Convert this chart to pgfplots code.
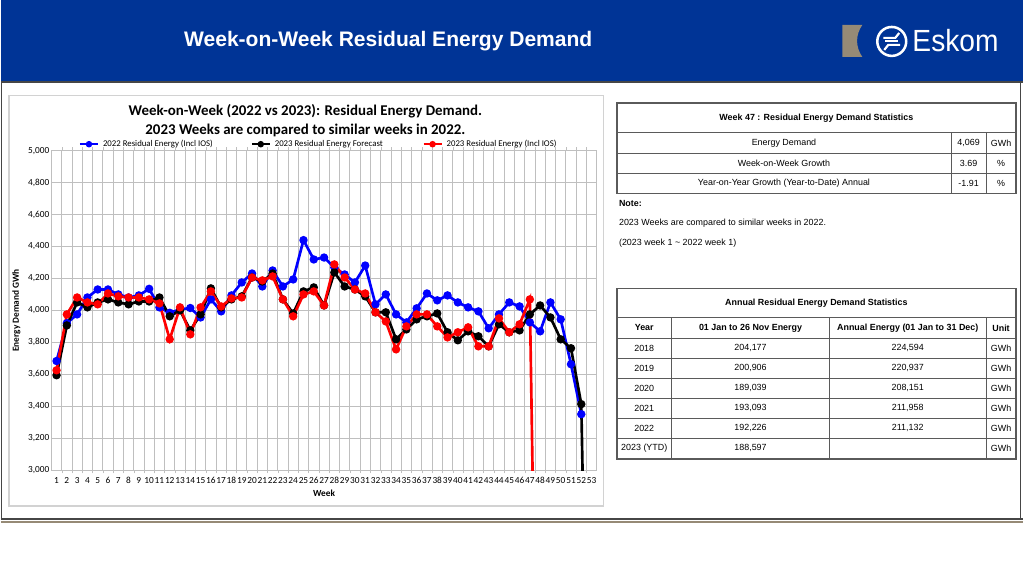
\documentclass[border=0pt]{standalone}
\usepackage{fontspec}
\usepackage{pgfplots}
\pgfplotsset{compat=1.18}
\setmainfont{Liberation Sans}
\newfontfamily\calibri{Carlito}
\definecolor{hdrblue}{RGB}{0,52,150}
\definecolor{frame}{RGB}{70,70,70}
\definecolor{tan}{RGB}{150,138,118}
\definecolor{tline}{RGB}{90,90,90}
\definecolor{gridc}{RGB}{191,191,191}
\newcommand{\tf}{\fontsize{6.7}{7.5}\selectfont}
\begin{document}
\begin{tikzpicture}[x=0.75pt,y=0.75pt]
% page and header
\fill[white] (0,0) rectangle (1024,-576);
\fill[hdrblue] (0,0) rectangle (1024,-82);
\draw[frame, line width=1.5pt] (0,-82.5) -- (1024,-82.5);
\node[white, font=\bfseries\fontsize{15.8}{18}\selectfont] at (388,-41) {Week-on-Week Residual Energy Demand};
% logo
\fill[tan] (843,-25) -- (863,-25) .. controls (856,-35) and (856,-47) .. (863,-57) -- (843,-57) -- cycle;
\draw[white, line width=1.9pt] (892.5,-41.5) circle (14.5);
\draw[white, line width=1.6pt] (884,-38) -- (896,-38) -- (900,-33);
\draw[white, line width=1.6pt] (901,-45) -- (889,-45) -- (885,-50);
\draw[white, line width=1.6pt] (886,-41.5) -- (899,-41.5);
\node[white, anchor=west, inner sep=0pt] at (913,-41) {\scalebox{0.92}[1]{\fontsize{23}{26}\selectfont Eskom}};
% content frame
\draw[frame, line width=1.2pt] (0.5,-83) -- (0.5,-520) (1021.5,-83) -- (1021.5,-520);
\draw[frame, line width=1.5pt] (0,-520) -- (1024,-520);
\draw[tan, line width=1.5pt] (0,-523) -- (1024,-523);
% chart panel
\draw[gridc!70, line width=0.8pt] (8,-96) rectangle (604,-507);
\node[inner sep=0pt, font=\calibri\bfseries\fontsize{11.2}{12}\selectfont] at (305,-111.5) {Week-on-Week (2022 vs 2023): Residual Energy Demand.};
\node[inner sep=0pt, font=\calibri\bfseries\fontsize{11.2}{12}\selectfont] at (305,-130.5) {2023 Weeks are compared to similar weeks in 2022.};
\coordinate (axpos) at (50.5,-471);
\begin{axis}[
  at={(axpos)}, anchor=south west,
  scale only axis, width=409.8pt, height=240pt,
  xmin=0.5, xmax=53.5, ymin=3000, ymax=5000,
  xtick={1,...,53}, minor x tick num=1,
  ytick={3000,3200,...,5000},
  major tick length=0pt, minor tick length=2.5pt, tick align=outside,
  xminorgrids=true, ymajorgrids=true,
  grid style={gridc, line width=0.6pt},
  minor tick style={gridc},
  axis line style={gridc},
  tick label style={font=\calibri\fontsize{7}{8}\selectfont},
  /pgf/number format/assume math mode=true,
  y tick label style={/pgf/number format/1000 sep={,}, xshift=2pt},
  xticklabel style={yshift=-2pt},
  xlabel={Week},
  xlabel style={font=\calibri\bfseries\fontsize{7}{8}\selectfont, yshift=2pt},
  ylabel={Energy Demand GWh},
  ylabel style={font=\calibri\bfseries\fontsize{7}{8}\selectfont, yshift=-1pt},
  every axis plot/.append style={line width=2pt, mark=*, mark size=2.1pt, mark options={solid}},
  legend columns=3,
  legend style={draw=none, fill=none, at={(0.05,0.998)}, anchor=south west,
    font=\calibri\fontsize{6.6}{7}\selectfont, inner sep=0pt,
    /tikz/every odd column/.append style={column sep=1pt}},
  legend image code/.code={\draw[mark repeat=2, mark phase=2, #1, line width=1.6pt, mark size=1.6pt] plot coordinates {(0pt,0pt) (6.75pt,0pt) (13.5pt,0pt)};},
]
\addplot[blue] coordinates {
(1,3683) (2,3920) (3,3975) (4,4081) (5,4131) (6,4131) (7,4100) (8,4081) (9,4094) (10,4135)
(11,4019) (12,3985) (13,4006) (14,4015) (15,3956) (16,4069) (17,3994) (18,4094) (19,4175) (20,4231)
(21,4150) (22,4250) (23,4150) (24,4194) (25,4440) (26,4319) (27,4331) (28,4269) (29,4225) (30,4175)
(31,4281) (32,4038) (33,4100) (34,3975) (35,3925) (36,4013) (37,4106) (38,4063) (39,4094) (40,4050)
(41,4019) (42,3994) (43,3888) (44,3975) (45,4050) (46,4025) (47,3925) (48,3869) (49,4050) (50,3944)
(51,3663) (52,3350)
};
\addlegendentry{\makebox[109pt][l]{2022 Residual Energy (Incl IOS)}}
\addplot[black] coordinates {
(1,3594) (2,3906) (3,4050) (4,4019) (5,4050) (6,4069) (7,4050) (8,4038) (9,4056) (10,4056)
(11,4081) (12,3963) (13,4000) (14,3875) (15,3975) (16,4138) (17,4019) (18,4069) (19,4088) (20,4206)
(21,4181) (22,4231) (23,4069) (24,3981) (25,4119) (26,4144) (27,4031) (28,4238) (29,4150) (30,4131)
(31,4088) (32,3988) (33,3988) (34,3819) (35,3881) (36,3944) (37,3963) (38,3981) (39,3863) (40,3813)
(41,3869) (42,3838) (43,3775) (44,3913) (45,3863) (46,3875) (47,3975) (48,4031) (49,3956) (50,3819)
(51,3763) (52,3413) (53,0)
};
\addlegendentry{\makebox[109pt][l]{2023 Residual Energy Forecast}}
\addplot[red] coordinates {
(1,3625) (2,3975) (3,4081) (4,4050) (5,4038) (6,4106) (7,4088) (8,4081) (9,4081) (10,4069)
(11,4044) (12,3819) (13,4019) (14,3850) (15,4019) (16,4119) (17,4025) (18,4075) (19,4081) (20,4206)
(21,4188) (22,4213) (23,4069) (24,3963) (25,4100) (26,4119) (27,4031) (28,4288) (29,4206) (30,4131)
(31,4106) (32,3988) (33,3931) (34,3756) (35,3900) (36,3975) (37,3975) (38,3900) (39,3831) (40,3863)
(41,3894) (42,3775) (43,3775) (44,3950) (45,3863) (46,3913) (47,4069) (48,0)
};
\addlegendentry{2023 Residual Energy (Incl IOS)}
\end{axis}
% table 1
\draw[tline, line width=0.6pt] (617,-133) -- (1017,-133) (617,-153.5) -- (1017,-153.5) (617,-174) -- (1017,-174);
\draw[tline, line width=0.6pt] (952,-133) -- (952,-194) (987,-133) -- (987,-194);
\draw[tline, line width=1.2pt] (617,-103) rectangle (1017,-194);
\node[font=\tf\bfseries] at (817,-118) {Week 47 : Residual Energy Demand Statistics};
\node[font=\tf] at (784.5,-143.5) {Energy Demand};
\node[font=\tf] at (969.5,-143.5) {4,069};
\node[font=\tf] at (1002,-143.5) {GWh};
\node[font=\tf] at (784.5,-164) {Week-on-Week Growth};
\node[font=\tf] at (969.5,-164) {3.69};
\node[font=\tf] at (1002,-164) {\%};
\node[font=\tf] at (784.5,-184) {Year-on-Year Growth (Year-to-Date) Annual};
\node[font=\tf] at (969.5,-184) {-1.91};
\node[font=\tf] at (1002,-184) {\%};
% note
\node[font=\tf\bfseries, anchor=west, inner sep=0pt] at (619,-204) {Note:};
\node[font=\tf, anchor=west, inner sep=0pt] at (619,-224) {2023 Weeks are compared to similar weeks in 2022.};
\node[font=\tf, anchor=west, inner sep=0pt] at (619,-244) {(2023 week 1 \textasciitilde{} 2022 week 1)};
% table 2
\foreach \yy in {318,339,359,379,399,419,439}
  \draw[tline, line width=0.6pt] (617,-\yy) -- (1017,-\yy);
\draw[tline, line width=0.6pt] (672,-318) -- (672,-460) (830,-318) -- (830,-460) (987,-318) -- (987,-460);
\draw[tline, line width=1.2pt] (617,-289) rectangle (1017,-460);
\node[font=\tf\bfseries] at (817,-304) {Annual Residual Energy Demand Statistics};
\node[font=\tf\bfseries] at (644.5,-328.5) {Year};
\node[font=\tf\bfseries] at (751,-328.5) {01 Jan to 26 Nov Energy};
\node[font=\tf\bfseries] at (908.5,-328.5) {Annual Energy (01 Jan to 31 Dec)};
\node[font=\tf\bfseries] at (1002,-328.5) {Unit};
\foreach \yr/\a/\b [count=\i] in {2018/204{,}177/224{,}594, 2019/200{,}906/220{,}937, 2020/189{,}039/208{,}151, 2021/193{,}093/211{,}958, 2022/192{,}226/211{,}132, 2023 (YTD)/188{,}597/{}} {
  \pgfmathsetmacro{\yc}{-349-20*(\i-1)}
  \node[font=\tf] at (644.5,\yc) {\yr};
  \node[font=\tf] at (751,\yc) {\a};
  \node[font=\tf] at (908.5,\yc) {\b};
  \node[font=\tf] at (1002,\yc) {GWh};
}
\end{tikzpicture}
\end{document}
